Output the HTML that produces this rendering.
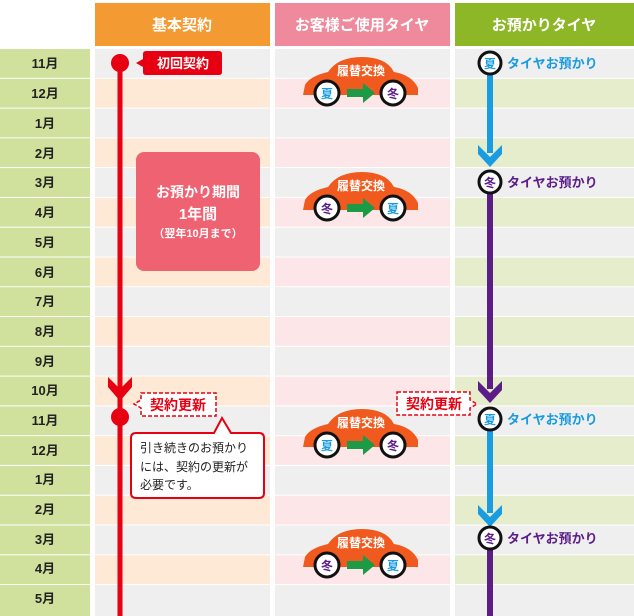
<!DOCTYPE html>
<html><head><meta charset="utf-8"><style>
html,body{margin:0;padding:0;background:#fff;}
svg{display:block;font-family:"Liberation Sans","Noto Sans CJK JP",sans-serif;}
</style></head><body>
<svg width="634" height="616" viewBox="0 0 634 616" xmlns="http://www.w3.org/2000/svg">
<defs>
<path id="car" d="M-59,37 L-57,27 Q-52,18 -34,14 Q-24,-1 0,-1 Q24,-1 32,14 Q50,17 56,30 L56,37 Z" fill="#f15a1e"/>
</defs>
<rect x="95" y="3" width="175" height="43" fill="#f39a33"/>
<rect x="275" y="3" width="175" height="43" fill="#ef8a9c"/>
<rect x="455" y="3" width="179" height="43" fill="#8db727"/>
<g font-weight="bold" font-size="15" fill="#fff" text-anchor="middle">
<text x="182" y="30">基本契約</text>
<text x="362" y="30">お客様ご使用タイヤ</text>
<text x="544" y="30">お預かりタイヤ</text>
</g>
<g>
<rect x="0" y="49" width="90" height="28.8" fill="#cfe19c"/><rect x="95" y="49" width="175" height="28.8" fill="#efefef"/><rect x="275" y="49" width="175" height="28.8" fill="#efefef"/><rect x="455" y="49" width="179" height="28.8" fill="#efefef"/>
<rect x="0" y="78.8" width="90" height="28.8" fill="#cfe19c"/><rect x="95" y="78.8" width="175" height="28.8" fill="#fde9d5"/><rect x="275" y="78.8" width="175" height="28.8" fill="#fde6e8"/><rect x="455" y="78.8" width="179" height="28.8" fill="#e6edcd"/>
<rect x="0" y="108.6" width="90" height="28.8" fill="#cfe19c"/><rect x="95" y="108.6" width="175" height="28.8" fill="#efefef"/><rect x="275" y="108.6" width="175" height="28.8" fill="#efefef"/><rect x="455" y="108.6" width="179" height="28.8" fill="#efefef"/>
<rect x="0" y="138.3" width="90" height="28.8" fill="#cfe19c"/><rect x="95" y="138.3" width="175" height="28.8" fill="#fde9d5"/><rect x="275" y="138.3" width="175" height="28.8" fill="#fde6e8"/><rect x="455" y="138.3" width="179" height="28.8" fill="#e6edcd"/>
<rect x="0" y="168.1" width="90" height="28.8" fill="#cfe19c"/><rect x="95" y="168.1" width="175" height="28.8" fill="#efefef"/><rect x="275" y="168.1" width="175" height="28.8" fill="#efefef"/><rect x="455" y="168.1" width="179" height="28.8" fill="#efefef"/>
<rect x="0" y="197.9" width="90" height="28.8" fill="#cfe19c"/><rect x="95" y="197.9" width="175" height="28.8" fill="#fde9d5"/><rect x="275" y="197.9" width="175" height="28.8" fill="#fde6e8"/><rect x="455" y="197.9" width="179" height="28.8" fill="#e6edcd"/>
<rect x="0" y="227.7" width="90" height="28.8" fill="#cfe19c"/><rect x="95" y="227.7" width="175" height="28.8" fill="#efefef"/><rect x="275" y="227.7" width="175" height="28.8" fill="#efefef"/><rect x="455" y="227.7" width="179" height="28.8" fill="#efefef"/>
<rect x="0" y="257.5" width="90" height="28.8" fill="#cfe19c"/><rect x="95" y="257.5" width="175" height="28.8" fill="#fde9d5"/><rect x="275" y="257.5" width="175" height="28.8" fill="#fde6e8"/><rect x="455" y="257.5" width="179" height="28.8" fill="#e6edcd"/>
<rect x="0" y="287.2" width="90" height="28.8" fill="#cfe19c"/><rect x="95" y="287.2" width="175" height="28.8" fill="#efefef"/><rect x="275" y="287.2" width="175" height="28.8" fill="#efefef"/><rect x="455" y="287.2" width="179" height="28.8" fill="#efefef"/>
<rect x="0" y="317" width="90" height="28.8" fill="#cfe19c"/><rect x="95" y="317" width="175" height="28.8" fill="#fde9d5"/><rect x="275" y="317" width="175" height="28.8" fill="#fde6e8"/><rect x="455" y="317" width="179" height="28.8" fill="#e6edcd"/>
<rect x="0" y="346.8" width="90" height="28.8" fill="#cfe19c"/><rect x="95" y="346.8" width="175" height="28.8" fill="#efefef"/><rect x="275" y="346.8" width="175" height="28.8" fill="#efefef"/><rect x="455" y="346.8" width="179" height="28.8" fill="#efefef"/>
<rect x="0" y="376.6" width="90" height="28.8" fill="#cfe19c"/><rect x="95" y="376.6" width="175" height="28.8" fill="#fde9d5"/><rect x="275" y="376.6" width="175" height="28.8" fill="#fde6e8"/><rect x="455" y="376.6" width="179" height="28.8" fill="#e6edcd"/>
<rect x="0" y="406.4" width="90" height="28.8" fill="#cfe19c"/><rect x="95" y="406.4" width="175" height="28.8" fill="#efefef"/><rect x="275" y="406.4" width="175" height="28.8" fill="#efefef"/><rect x="455" y="406.4" width="179" height="28.8" fill="#efefef"/>
<rect x="0" y="436.1" width="90" height="28.8" fill="#cfe19c"/><rect x="95" y="436.1" width="175" height="28.8" fill="#fde9d5"/><rect x="275" y="436.1" width="175" height="28.8" fill="#fde6e8"/><rect x="455" y="436.1" width="179" height="28.8" fill="#e6edcd"/>
<rect x="0" y="465.9" width="90" height="28.8" fill="#cfe19c"/><rect x="95" y="465.9" width="175" height="28.8" fill="#efefef"/><rect x="275" y="465.9" width="175" height="28.8" fill="#efefef"/><rect x="455" y="465.9" width="179" height="28.8" fill="#efefef"/>
<rect x="0" y="495.7" width="90" height="28.8" fill="#cfe19c"/><rect x="95" y="495.7" width="175" height="28.8" fill="#fde9d5"/><rect x="275" y="495.7" width="175" height="28.8" fill="#fde6e8"/><rect x="455" y="495.7" width="179" height="28.8" fill="#e6edcd"/>
<rect x="0" y="525.5" width="90" height="28.8" fill="#cfe19c"/><rect x="95" y="525.5" width="175" height="28.8" fill="#efefef"/><rect x="275" y="525.5" width="175" height="28.8" fill="#efefef"/><rect x="455" y="525.5" width="179" height="28.8" fill="#efefef"/>
<rect x="0" y="555.3" width="90" height="28.8" fill="#cfe19c"/><rect x="95" y="555.3" width="175" height="28.8" fill="#fde9d5"/><rect x="275" y="555.3" width="175" height="28.8" fill="#fde6e8"/><rect x="455" y="555.3" width="179" height="28.8" fill="#e6edcd"/>
<rect x="0" y="585" width="90" height="31" fill="#cfe19c"/><rect x="95" y="585" width="175" height="31" fill="#efefef"/><rect x="275" y="585" width="175" height="31" fill="#efefef"/><rect x="455" y="585" width="179" height="31" fill="#efefef"/>
</g>
<g font-weight="bold" font-size="13" fill="#222" text-anchor="middle">
<text x="45" y="68">11月</text><text x="45" y="98">12月</text><text x="45" y="128">1月</text><text x="45" y="158">2月</text>
<text x="45" y="187">3月</text><text x="45" y="217">4月</text><text x="45" y="247">5月</text><text x="45" y="277">6月</text>
<text x="45" y="306">7月</text><text x="45" y="336">8月</text><text x="45" y="366">9月</text><text x="45" y="395">10月</text>
<text x="45" y="425">11月</text><text x="45" y="455">12月</text><text x="45" y="484">1月</text><text x="45" y="514">2月</text>
<text x="45" y="544">3月</text><text x="45" y="573">4月</text><text x="45" y="603">5月</text>
</g>
<rect x="136" y="152" width="124" height="119" rx="8" fill="#ee6272"/>
<g fill="#fff" font-weight="bold" text-anchor="middle">
<text x="198" y="197" font-size="14">お預かり期間</text>
<text x="198" y="219" font-size="15">1年間</text>
<text x="198" y="237" font-size="11">（翌年10月まで）</text>
</g>
<rect x="117.5" y="63" width="5" height="553" fill="#e60012"/>
<path d="M108,377 L120,389 L132,377 L132,387 L120,401 L108,387 Z" fill="#e60012"/>
<circle cx="120" cy="63" r="9" fill="#e60012"/>
<circle cx="120" cy="417" r="9" fill="#e60012"/>
<path d="M146,51 H219 Q222,51 222,54 V72 Q222,75 219,75 H146 Q143,75 143,72 V67 L136,63 L143,59 V54 Q143,51 146,51 Z" fill="#e60012"/>
<text x="183" y="68" fill="#fff" font-weight="bold" font-size="13" text-anchor="middle">初回契約</text>
<path d="M141,393 H216 V416 H141 V408 L134,404 L141,400 Z" fill="#fff" stroke="#e60012" stroke-width="1.5" stroke-dasharray="4,2"/>
<text x="178" y="410" fill="#e60012" font-weight="bold" font-size="14" text-anchor="middle">契約更新</text>
<path d="M397,392 H470 V400 L477,404 L470,408 V415 H397 Z" fill="#fff" stroke="#e60012" stroke-width="1.5" stroke-dasharray="4,2"/>
<text x="434" y="409" fill="#e60012" font-weight="bold" font-size="14" text-anchor="middle">契約更新</text>
<path d="M136,433 H214 L222,418 L231,433 H259 Q264,433 264,438 V493 Q264,498 259,498 H136 Q131,498 131,493 V438 Q131,433 136,433 Z" fill="#fff" stroke="#e60012" stroke-width="2"/>
<g font-size="12" fill="#222">
<text x="140" y="452">引き続きのお預かり</text>
<text x="140" y="471">には、契約の更新が</text>
<text x="140" y="489">必要です。</text>
</g>
<g>
<use href="#car" transform="translate(362,58)"/>
<text x="361" y="75" fill="#fff" font-weight="bold" font-size="12" text-anchor="middle">履替交換</text>
<circle cx="327" cy="93" r="12" fill="#fff" stroke="#111" stroke-width="3"/>
<circle cx="393" cy="93" r="12" fill="#fff" stroke="#111" stroke-width="3"/>
<path d="M347,89 H363 V83 L375,93 L363,103 V97 H347 Z" fill="#1c9a45"/>
<text x="327" y="98" fill="#1a9be0" font-weight="bold" font-size="12" text-anchor="middle">夏</text>
<text x="393" y="98" fill="#5b1e8a" font-weight="bold" font-size="12" text-anchor="middle">冬</text>
</g>
<g>
<use href="#car" transform="translate(362,173)"/>
<text x="361" y="190" fill="#fff" font-weight="bold" font-size="12" text-anchor="middle">履替交換</text>
<circle cx="327" cy="208" r="12" fill="#fff" stroke="#111" stroke-width="3"/>
<circle cx="393" cy="208" r="12" fill="#fff" stroke="#111" stroke-width="3"/>
<path d="M347,204 H363 V198 L375,208 L363,218 V212 H347 Z" fill="#1c9a45"/>
<text x="327" y="213" fill="#5b1e8a" font-weight="bold" font-size="12" text-anchor="middle">冬</text>
<text x="393" y="213" fill="#1a9be0" font-weight="bold" font-size="12" text-anchor="middle">夏</text>
</g>
<g>
<use href="#car" transform="translate(362,410)"/>
<text x="361" y="427" fill="#fff" font-weight="bold" font-size="12" text-anchor="middle">履替交換</text>
<circle cx="327" cy="445" r="12" fill="#fff" stroke="#111" stroke-width="3"/>
<circle cx="393" cy="445" r="12" fill="#fff" stroke="#111" stroke-width="3"/>
<path d="M347,441 H363 V435 L375,445 L363,455 V449 H347 Z" fill="#1c9a45"/>
<text x="327" y="450" fill="#1a9be0" font-weight="bold" font-size="12" text-anchor="middle">夏</text>
<text x="393" y="450" fill="#5b1e8a" font-weight="bold" font-size="12" text-anchor="middle">冬</text>
</g>
<g>
<use href="#car" transform="translate(362,530)"/>
<text x="361" y="547" fill="#fff" font-weight="bold" font-size="12" text-anchor="middle">履替交換</text>
<circle cx="327" cy="565" r="12" fill="#fff" stroke="#111" stroke-width="3"/>
<circle cx="393" cy="565" r="12" fill="#fff" stroke="#111" stroke-width="3"/>
<path d="M347,561 H363 V555 L375,565 L363,575 V569 H347 Z" fill="#1c9a45"/>
<text x="327" y="570" fill="#5b1e8a" font-weight="bold" font-size="12" text-anchor="middle">冬</text>
<text x="393" y="570" fill="#1a9be0" font-weight="bold" font-size="12" text-anchor="middle">夏</text>
</g>
<rect x="487" y="63" width="6" height="90" fill="#1a9ce2"/>
<path d="M478,145 L490,157 L502,145 L502,154 L490,167 L478,154 Z" fill="#1a9ce2"/>
<rect x="487" y="182" width="6" height="207" fill="#5b1d86"/>
<path d="M478,381 L490,393 L502,381 L502,390 L490,403 L478,390 Z" fill="#5b1d86"/>
<rect x="487" y="419" width="6" height="94" fill="#1a9ce2"/>
<path d="M478,505 L490,517 L502,505 L502,514 L490,527 L478,514 Z" fill="#1a9ce2"/>
<rect x="487" y="538" width="6" height="78" fill="#5b1d86"/>
<g font-weight="bold" text-anchor="middle" font-size="12">
<circle cx="490" cy="63" r="11" fill="#fff" stroke="#111" stroke-width="3"/><text x="490" y="68" fill="#1a9be0">夏</text>
<circle cx="490" cy="182" r="11" fill="#fff" stroke="#111" stroke-width="3"/><text x="490" y="187" fill="#5b1e8a">冬</text>
<circle cx="490" cy="419" r="11" fill="#fff" stroke="#111" stroke-width="3"/><text x="490" y="424" fill="#1a9be0">夏</text>
<circle cx="490" cy="538" r="11" fill="#fff" stroke="#111" stroke-width="3"/><text x="490" y="543" fill="#5b1e8a">冬</text>
</g>
<g font-weight="bold" font-size="13">
<text x="507" y="68" fill="#1a9be0">タイヤお預かり</text>
<text x="507" y="187" fill="#5b1e8a">タイヤお預かり</text>
<text x="507" y="424" fill="#1a9be0">タイヤお預かり</text>
<text x="507" y="543" fill="#5b1e8a">タイヤお預かり</text>
</g>
</svg>
</body></html>
